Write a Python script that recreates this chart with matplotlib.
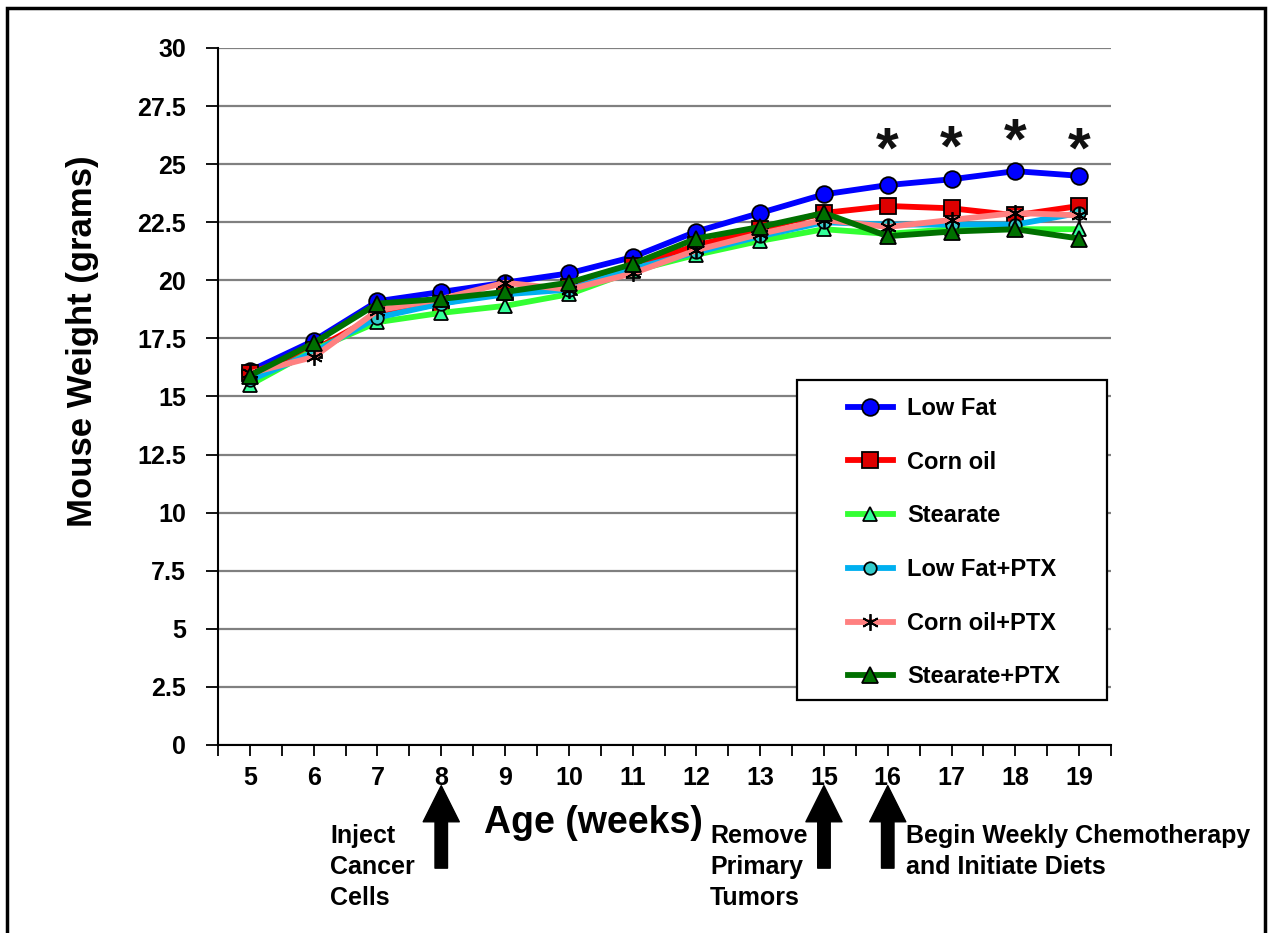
import matplotlib.pyplot as plt
import matplotlib.patches as patches
import numpy as np

plt.rcParams['font.family'] = ['Liberation Sans', 'DejaVu Sans']
plt.rcParams['font.weight'] = 'bold'

weeks = ['5', '6', '7', '8', '9', '10', '11', '12', '13', '15', '16', '17', '18', '19']
low_fat = [16.1, 17.4, 19.1, 19.5, 19.9, 20.3, 21.0, 22.1, 22.9, 23.7, 24.1, 24.35, 24.7, 24.5]
corn_oil = [16.0, 17.0, 18.5, 19.0, 19.5, 19.7, 20.6, 21.5, 22.2, 22.9, 23.2, 23.1, 22.8, 23.2]
stearate = [15.5, 17.0, 18.2, 18.6, 18.9, 19.4, 20.4, 21.1, 21.7, 22.2, 22.0, 22.2, 22.2, 22.2]
low_fat_ptx = [15.7, 16.9, 18.4, 19.0, 19.4, 19.6, 20.5, 21.2, 21.9, 22.5, 22.4, 22.4, 22.4, 22.9]
corn_oil_ptx = [16.0, 16.7, 18.7, 19.2, 19.9, 19.6, 20.3, 21.3, 22.0, 22.6, 22.3, 22.6, 22.9, 22.8]
stearate_ptx = [15.9, 17.3, 19.0, 19.2, 19.5, 19.9, 20.7, 21.8, 22.3, 22.9, 21.9, 22.1, 22.2, 21.8]

star_weeks = ['16', '17', '18', '19']
star_y = [25.5, 25.6, 25.9, 25.5]

events = [('8', 'Inject\nCancer\nCells'), ('15', 'Remove\nPrimary\nTumors'),
          ('16', 'Begin Weekly Chemotherapy\nand Initiate Diets')]

W, H = 1272, 933
fig = plt.figure(figsize=(W / 100, H / 100), dpi=100)
ax = fig.add_axes([218 / W, 1 - 745 / H, (1111 - 218) / W, (745 - 48) / H])

x = np.arange(len(weeks))
series = [
    ('Low Fat', low_fat, '#0000FF', 'o', '#0000FF', 12),
    ('Corn oil', corn_oil, '#FF0000', 's', '#DD0000', 12),
    ('Stearate', stearate, '#33FF33', '^', '#33FF99', 10),
    ('Low Fat+PTX', low_fat_ptx, '#00B0F0', 'o', '#33CCCC', 9),
    ('Corn oil+PTX', corn_oil_ptx, '#FF8080', (6, 2, 0), '#000000', 12),
    ('Stearate+PTX', stearate_ptx, '#007000', '^', '#007000', 11),
]
for name, vals, col, mk, fc, ms in series:
    ax.plot(x, vals, color=col, lw=4.2, marker=mk, markersize=ms,
            markerfacecolor=fc, markeredgecolor='black', markeredgewidth=1.3,
            label=name, zorder=3)

for w, yv in zip(star_weeks, star_y):
    ax.text(weeks.index(w), yv, '*', ha='center', va='center', fontsize=42,
            fontweight='heavy', color='#111111')

ax.set_ylim(0, 30)
ax.set_xlim(-0.5, len(weeks) - 0.5)
ax.set_yticks(np.arange(0, 30.1, 2.5))
ax.set_yticklabels(['0', '2.5', '5', '7.5', '10', '12.5', '15', '17.5', '20',
                    '22.5', '25', '27.5', '30'])
ax.set_xticks(x)
ax.set_xticklabels(weeks)
ax.set_xticks(np.arange(-0.5, len(weeks), 1.0), minor=True)
ax.tick_params(axis='y', labelsize=18, length=9, width=1.3, direction='out', pad=14)
ax.tick_params(axis='x', which='both', labelsize=18, length=8, width=1.3,
               direction='out', pad=7)
ax.yaxis.grid(True, color='#808080', lw=1.6)
ax.set_axisbelow(True)
for s in ['top', 'right']:
    ax.spines[s].set_visible(False)
for s in ['left', 'bottom']:
    ax.spines[s].set_linewidth(1.5)

fig.text(83 / W, 1 - 341 / H, 'Mouse Weight (grams)', rotation=90, ha='center',
         va='center', fontsize=25, fontweight='bold')
fig.text(593 / W, 1 - 823 / H, 'Age (weeks)', ha='center', va='center',
         fontsize=27, fontweight='bold')

# event arrows and notes under the axis
text_x = {'8': 330, '15': 710, '16': 906}
for w, note in events:
    xp = weeks.index(w)
    ax.annotate('', xy=(xp, -1.75), xytext=(xp, -5.3), xycoords='data',
                arrowprops=dict(facecolor='black', edgecolor='black', width=9,
                                headwidth=26, headlength=26),
                annotation_clip=False)
    fig.text(text_x[w] / W, 1 - 824 / H, note, ha='left', va='top',
             fontsize=18, fontweight='bold', linespacing=1.36)

# legend box drawn as its own rectangle, entries placed inside it
box = patches.Rectangle((797 / W, 1 - 700 / H), 310 / W, 320 / H,
                        transform=fig.transFigure, facecolor='white',
                        edgecolor='black', lw=1.6, zorder=4, clip_on=False)
ax.add_patch(box)
leg = ax.legend(loc='upper left', bbox_to_anchor=(848 / W, 1 - 397 / H),
                bbox_transform=fig.transFigure, frameon=False, fontsize=17,
                labelspacing=1.3, handlelength=1.9, borderpad=0,
                borderaxespad=0, handletextpad=0.6)
leg.set_zorder(5)

fig.patches.append(patches.Rectangle((7 / W, -0.05), 1258 / W, 1.05 - 8 / H,
                                     transform=fig.transFigure, fill=False,
                                     edgecolor='black', lw=2.5))

fig.savefig('out.png', dpi=100)
